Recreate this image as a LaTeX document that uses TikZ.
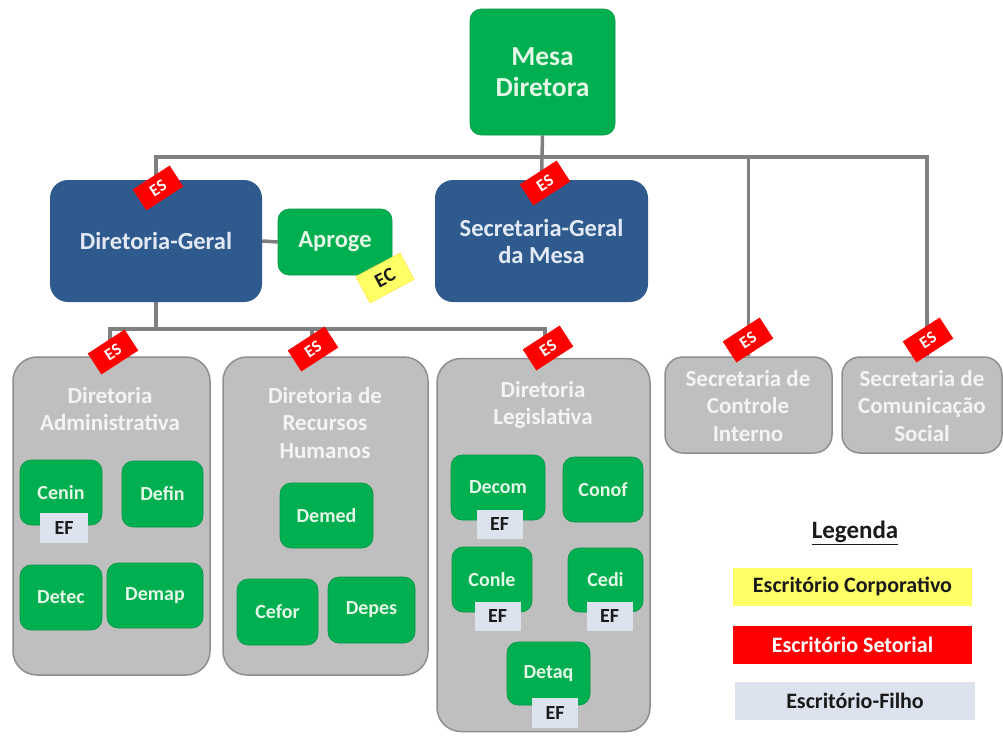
\documentclass[tikz,border=0pt]{standalone}
\usepackage{fontspec}
\setmainfont{Carlito}
\usetikzlibrary{backgrounds}
\definecolor{cgreen}{HTML}{00B050}
\definecolor{cgreentxt}{HTML}{E4F6E6}
\definecolor{cblue}{HTML}{2F5A8E}
\definecolor{cbluetxt}{HTML}{E3EAF6}
\definecolor{cgray}{HTML}{BFBFBF}
\definecolor{cgrayd}{HTML}{8E8E8E}
\definecolor{cgraytxt}{HTML}{F4F4F4}
\definecolor{cline}{HTML}{7F7F7F}
\definecolor{cred}{HTML}{FF0000}
\definecolor{cyel}{HTML}{FFFF66}
\definecolor{cef}{HTML}{DCE3EE}
\definecolor{ctxt}{HTML}{1A1A1A}
\newcommand\fsA{\fontsize{27.5}{31}\selectfont\bfseries}
\newcommand\fsB{\fontsize{24.5}{27}\selectfont\bfseries}
\newcommand\fsC{\fontsize{23}{27.5}\selectfont\bfseries}
\newcommand\fsD{\fontsize{20}{22}\selectfont\bfseries}
\newcommand\fsE{\fontsize{17}{18}\selectfont\bfseries}
\newcommand\fsF{\fontsize{22}{24}\selectfont\bfseries}
\tikzset{
  greenbox/.style={fill=cgreen, draw=cgreen!85!black, line width=0.6pt, rounded corners=11pt, text=cgreentxt, font=\fsD, inner sep=0pt, align=center},
  bluebox/.style={fill=cblue, rounded corners=18pt, text=cbluetxt, font=\fsB, inner sep=0pt, align=center},
  graybox/.style={fill=cgray, draw=cgrayd, line width=1.5pt, rounded corners=24pt, inner sep=0pt},
  graytitle/.style={text=cgraytxt, font=\fsC, align=center, inner sep=0pt},
  esbadge/.style={fill=cred, text=white, font=\fsE, rotate=33, minimum width=44pt, minimum height=25pt, inner sep=0pt},
  efbadge/.style={fill=cef, text=ctxt, font=\fsD, minimum width=46pt, minimum height=29pt, inner sep=0pt},
  conn/.style={draw=cline, line width=3.5pt},
  legbox/.style={minimum width=239pt, minimum height=38pt, inner sep=0pt, font=\fsF},
}
\begin{document}
\begin{tikzpicture}[x=1pt,y=-1pt]
\useasboundingbox (0,0) rectangle (1003,736);
% top
\node[greenbox, font=\fsA, minimum width=145pt, minimum height=126pt] (mesa) at (542.5,72) {Mesa\\Diretora};
\node[bluebox, minimum width=212pt, minimum height=122pt] (dg) at (156,241) {Diretoria-Geral};
\node[greenbox, font=\fsB, minimum width=114pt, minimum height=66pt] (aproge) at (335,242) {Aproge};
\node[bluebox, minimum width=213pt, minimum height=122pt] (sg) at (541.5,241) {Secretaria-Geral\\da Mesa};
% gray boxes
\node[graybox, minimum width=197pt, minimum height=318pt] (dadm) at (111.5,516) {};
\node[graybox, minimum width=205pt, minimum height=318pt] (drh) at (325.5,516) {};
\node[graybox, minimum width=213pt, minimum height=373pt] (dleg) at (543.5,545) {};
\node[graybox, rounded corners=18pt, minimum width=167pt, minimum height=96pt] (sci) at (748.5,405) {};
\node[graybox, rounded corners=18pt, minimum width=160pt, minimum height=96pt] (scs) at (922,405) {};
\node[graytitle] (tadm) at (110,409) {Diretoria\\Administrativa};
\node[graytitle] (trh) at (325,423) {Diretoria de\\Recursos\\Humanos};
\node[graytitle] (tleg) at (543,405) {Diretoria\\Legislativa};
\node[graytitle] (tsci) at (748,406) {Secretaria de\\Controle\\Interno};
\node[graytitle] (tscs) at (922,406) {Secretaria de\\Comunicação\\Social};
% inner green boxes
\node[greenbox, minimum width=82pt, minimum height=65pt] (cenin) at (61,492.5) {Cenin};
\node[greenbox, minimum width=81pt, minimum height=66pt] (defin) at (162.5,494) {Defin};
\node[greenbox, minimum width=82pt, minimum height=65pt] (detec) at (61,597.5) {Detec};
\node[greenbox, minimum width=96pt, minimum height=65pt] (demap) at (155,595.5) {Demap};
\node[greenbox, minimum width=93pt, minimum height=65pt] (demed) at (326.5,515.5) {Demed};
\node[greenbox, minimum width=81pt, minimum height=66pt] (cefor) at (277.5,612) {Cefor};
\node[greenbox, minimum width=87pt, minimum height=66pt] (depes) at (371.5,610) {Depes};
\node[greenbox, minimum width=94pt, minimum height=65pt] (decom) at (498,487.5) {Decom};
\node[greenbox, minimum width=80pt, minimum height=65pt] (conof) at (603,489.5) {Conof};
\node[greenbox, minimum width=80pt, minimum height=65pt] (conle) at (492,579.5) {Conle};
\node[greenbox, minimum width=75pt, minimum height=64pt] (cedi) at (605.5,580) {Cedi};
\node[greenbox, minimum width=83pt, minimum height=63pt] (detaq) at (548.5,673.5) {Detaq};
% EF badges
\node[efbadge, minimum width=48pt, minimum height=30pt] (efcenin) at (64,528) {EF};
\node[efbadge] (efdecom) at (499.5,524) {EF};
\node[efbadge] (efconle) at (497.5,616) {EF};
\node[efbadge] (efcedi) at (609.5,616) {EF};
\node[efbadge, minimum height=30pt] (efdetaq) at (555,713) {EF};
% connectors
\coordinate (hL) at (156,157);
\coordinate (hR) at (927,157);
\coordinate (lL) at (110,329);
\coordinate (lM) at (312,329);
\coordinate (lR) at (545,329);
\begin{pgfonlayer}{background}
\draw[conn] (dg.north) -- (hL) -- (hR) -- (hR |- scs.north);
\draw[conn] (sci.north) -- (sci.north |- hR);
\draw[conn] (mesa.south) -- (sg.north);
\draw[conn] (dg.east) -- (aproge.west);
\draw[conn] (dg.south) -- (dg.south |- lL);
\draw[conn] (lL |- dadm.north) -- (lL) -- (lR) -- (lR |- dleg.north);
\draw[conn] (lM) -- (lM |- drh.north);
\end{pgfonlayer}
% ES / EC badges
\node[esbadge] (esdg) at (158,188) {ES};
\node[esbadge] (essg) at (545,183) {ES};
\node[esbadge] (esadm) at (113,352) {ES};
\node[esbadge] (esrh) at (313,349) {ES};
\node[esbadge] (esleg) at (548,348) {ES};
\node[esbadge] (essci) at (748,340) {ES};
\node[esbadge] (esscs) at (928,340) {ES};
\node[fill=cyel, draw=cyel!80!orange, line width=0.6pt, text=ctxt, font=\fsD, rotate=28, minimum width=50pt, minimum height=30pt, inner sep=0pt] (ec) at (385,278) {EC};
% legend
\node[font=\fontsize{25}{28}\selectfont\bfseries, text=ctxt, inner sep=0pt] (leg) at (855,533) {\underline{Legenda}};
\node[legbox, fill=cyel, text=ctxt] (lyel) at (852.5,586.5) {Escritório Corporativo};
\node[legbox, fill=cred, text=white] (lred) at (852.5,645) {Escritório Setorial};
\node[legbox, fill=cef, text=ctxt, minimum width=240pt] (lblu) at (855,701) {Escritório-Filho};
\end{tikzpicture}
\end{document}
